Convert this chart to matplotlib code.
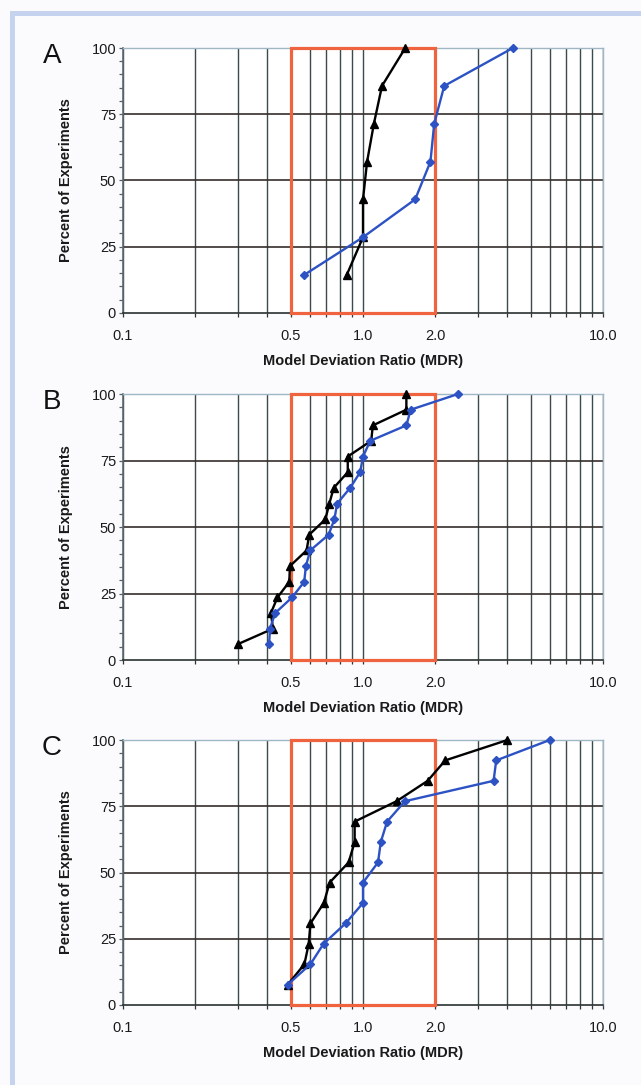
import matplotlib
matplotlib.use('Agg')
import matplotlib.pyplot as plt
from matplotlib.patches import Rectangle

plt.rcParams['font.family'] = ['Liberation Sans', 'DejaVu Sans']

# ---------------- data ----------------
panel_letters = ['A', 'B', 'C']

a_pct = [14.3, 28.6, 42.9, 57.1, 71.4, 85.7, 100.0]
a_black = [0.855, 1.0, 1.0, 1.04, 1.11, 1.20, 1.50]
a_blue = [0.567, 1.0, 1.65, 1.91, 1.98, 2.18, 4.21]

b_pct = [5.9, 11.8, 17.6, 23.5, 29.4, 35.3, 41.2, 47.1, 52.9, 58.8,
         64.7, 70.6, 76.5, 82.4, 88.2, 94.1, 100.0]
b_black = [0.30, 0.422, 0.413, 0.44, 0.493, 0.496, 0.582, 0.597, 0.697, 0.724,
           0.755, 0.864, 0.864, 1.082, 1.099, 1.516, 1.516]
b_blue = [0.406, 0.41, 0.43, 0.506, 0.569, 0.578, 0.603, 0.719, 0.760, 0.780,
          0.884, 0.973, 1.0, 1.072, 1.516, 1.58, 2.49]

c_pct = [7.7, 15.4, 23.1, 30.8, 38.5, 46.2, 53.8, 61.5, 69.2, 76.9, 84.6, 92.3, 100.0]
c_black = [0.486, 0.570, 0.594, 0.604, 0.687, 0.726, 0.871, 0.923, 0.923,
           1.38, 1.86, 2.20, 4.0]
c_blue = [0.486, 0.604, 0.685, 0.846, 1.0, 1.0, 1.155, 1.186, 1.26,
          1.495, 3.50, 3.59, 6.0]

x_tick_values = [0.1, 0.5, 1.0, 2.0, 10.0]
x_tick_labels = ['0.1', '0.5', '1.0', '2.0', '10.0']
y_tick_values = [0, 25, 50, 75, 100]
band_low, band_high = 0.5, 2.0

x_label = 'Model Deviation Ratio (MDR)'
y_label = 'Percent of Experiments'

panels = [(a_pct, a_black, a_blue), (b_pct, b_black, b_blue), (c_pct, c_black, c_blue)]

# ---------------- layout ----------------
W, H = 641, 1085
fig = plt.figure(figsize=(W / 100, H / 100), dpi=100, facecolor='#fbfbfd')

# light blue frame
fig.add_artist(Rectangle((12 / W, -0.05), 1.2, 1 - 13 / H + 0.05, transform=fig.transFigure,
                         facecolor='none', edgecolor='#c6d3ee', lw=3.6, zorder=0))

axes_px = [(48, 313), (394, 660), (740, 1005)]  # top, bottom in pixels
left_px, right_px = 123, 603

grid_x = [v / 10 for v in range(1, 10)] + [float(v) for v in range(1, 11)]
minor_y = [v for v in range(0, 101, 5)]

for i, ((top, bot), (pct, blk, blu)) in enumerate(zip(axes_px, panels)):
    ax_h = bot - top
    ax = fig.add_axes([left_px / W, 1 - bot / H, (right_px - left_px) / W, ax_h / H])
    ax.set_facecolor('white')
    ax.set_xscale('log')
    ax.set_xlim(0.1, 10)
    ax.set_ylim(0, 100)

    # grid lines
    for gx in grid_x:
        ax.axvline(gx, color='#3d4a4c', lw=1.0, zorder=1)
    for gy in [25, 50, 75]:
        ax.axhline(gy, color='#352d2b', lw=1.2, zorder=1)

    ax.set_xticks(x_tick_values)
    ax.set_xticklabels(x_tick_labels)
    ax.set_xticks(grid_x, minor=True)
    ax.xaxis.set_minor_formatter(plt.NullFormatter())
    ax.set_yticks(y_tick_values)
    ax.set_yticks(minor_y, minor=True)
    ax.tick_params(axis='x', which='both', direction='out', length=3, width=0.9,
                   color='#333333', pad=8.5, labelsize=10.5, labelcolor='#1a1a1a')
    ax.tick_params(axis='y', which='both', direction='out', length=3, width=0.9,
                   color='#556066', pad=2, labelsize=10.5, labelcolor='#1a1a1a')

    for s in ['top', 'right']:
        ax.spines[s].set_color('#9fb6c4')
        ax.spines[s].set_linewidth(1.0)
    ax.spines['left'].set_color('#5a6a70')
    ax.spines['left'].set_linewidth(1.2)
    ax.spines['bottom'].set_color('#2a3030')
    ax.spines['bottom'].set_linewidth(1.2)

    # acceptance band
    ax.add_patch(Rectangle((band_low, 0), band_high - band_low, 100, facecolor='none',
                           edgecolor='#f0633f', lw=2.3, zorder=3, clip_on=False))

    ax.plot(blk, pct, color='black', lw=1.7, marker='^', ms=6, zorder=4, clip_on=False)
    ax.plot(blu, pct, color='#2c52c4', lw=1.7, marker='D', ms=4, zorder=5, clip_on=False)

    ax.set_xlabel(x_label, fontsize=10.5, fontweight='bold', color='#1a1a1a')
    ax.xaxis.set_label_coords(0.5, -41 / ax_h)
    ax.set_ylabel(y_label, fontsize=10.5, fontweight='bold', color='#1a1a1a')
    ax.yaxis.set_label_coords(-0.104, 0.5)

    fig.text(52 / W, 1 - (top + 8) / H, panel_letters[i], fontsize=20, ha='center', va='center',
             color='#111111')

fig.savefig('out.png', dpi=100, facecolor=fig.get_facecolor())
